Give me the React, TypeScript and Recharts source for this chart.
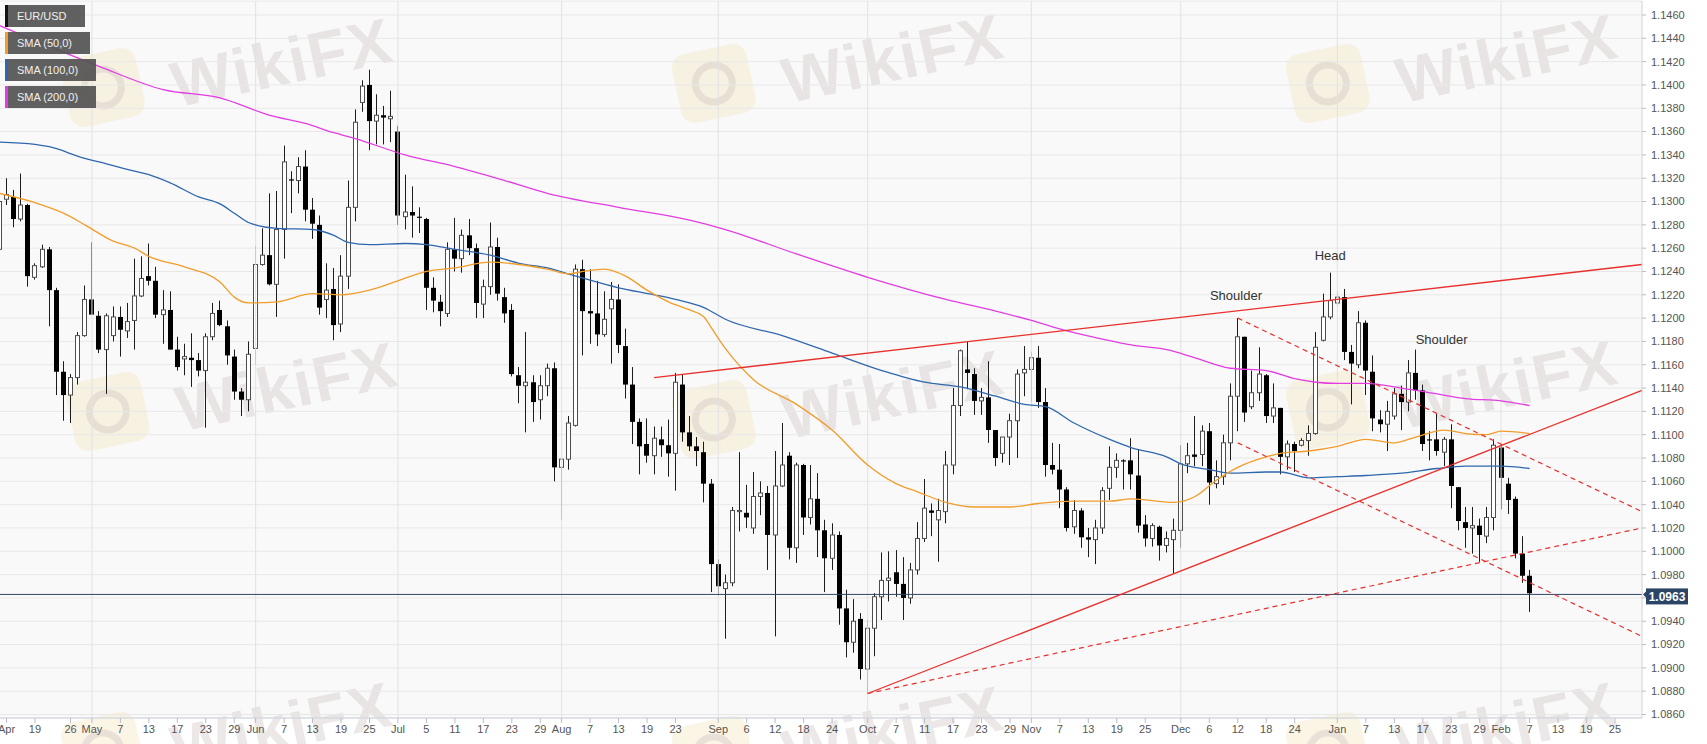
import React from "react";
import {
  Bar,
  CartesianGrid,
  ComposedChart,
  Line,
  ReferenceDot,
  ReferenceLine,
  XAxis,
  YAxis,
} from "recharts";

// EUR/USD daily candles, one per weekday, index 0 = Fri 12 Apr 2019 ... index 215 = Fri 7 Feb 2020
// [open, high, low, close]
const candles: number[][] = [
  [1.1259, 1.1324, 1.1255, 1.13], [1.1302, 1.132, 1.1297, 1.1306], [1.1304, 1.131, 1.1278, 1.1285], [1.1285, 1.1324, 1.1283, 1.1297],
  [1.1297, 1.1298, 1.1227, 1.1236], [1.1235, 1.1247, 1.1233, 1.1245], [1.1244, 1.1263, 1.1243, 1.1259], [1.1259, 1.1261, 1.1193, 1.1224],
  [1.1224, 1.1226, 1.1134, 1.1154], [1.1154, 1.1163, 1.1112, 1.1134], [1.1134, 1.1152, 1.111, 1.1149], [1.1149, 1.1188, 1.1143, 1.1185],
  [1.1185, 1.1228, 1.1184, 1.1216], [1.1216, 1.1265, 1.1203, 1.1203], [1.1202, 1.1206, 1.117, 1.1173], [1.1173, 1.1204, 1.1135, 1.1202],
  [1.1185, 1.121, 1.118, 1.1201], [1.1201, 1.121, 1.1167, 1.119], [1.1189, 1.1213, 1.1183, 1.1197], [1.1198, 1.1251, 1.1173, 1.1219],
  [1.1219, 1.1253, 1.1218, 1.1234], [1.1236, 1.1264, 1.1228, 1.1232], [1.1232, 1.1244, 1.12, 1.1203], [1.1203, 1.1224, 1.1178, 1.1207],
  [1.1207, 1.1223, 1.1173, 1.1173], [1.1173, 1.1184, 1.1155, 1.1158], [1.1165, 1.1178, 1.1151, 1.1167], [1.1166, 1.1187, 1.1141, 1.1164],
  [1.1164, 1.117, 1.115, 1.1155], [1.1155, 1.1187, 1.1106, 1.1184], [1.1184, 1.1213, 1.1181, 1.1204], [1.1207, 1.1215, 1.1193, 1.1194],
  [1.1193, 1.1198, 1.116, 1.1168], [1.1167, 1.1173, 1.113, 1.1137], [1.1137, 1.114, 1.1116, 1.113], [1.113, 1.118, 1.112, 1.1169],
  [1.1174, 1.1262, 1.116, 1.1246], [1.1246, 1.1277, 1.1245, 1.1254], [1.1254, 1.1307, 1.1228, 1.1229], [1.1229, 1.1309, 1.1201, 1.1276],
  [1.1276, 1.1348, 1.1251, 1.1334], [1.1319, 1.1326, 1.129, 1.1318], [1.1318, 1.1338, 1.1307, 1.133], [1.133, 1.1344, 1.1283, 1.1293],
  [1.1293, 1.1303, 1.1268, 1.1281], [1.128, 1.1288, 1.1203, 1.1209], [1.1216, 1.1247, 1.12, 1.1224], [1.1225, 1.1243, 1.1181, 1.1194],
  [1.1195, 1.1254, 1.1188, 1.1236], [1.1236, 1.1318, 1.1225, 1.1295], [1.1295, 1.1379, 1.1283, 1.1368], [1.1385, 1.1404, 1.1377, 1.1399],
  [1.14, 1.1413, 1.1344, 1.1369], [1.1369, 1.1392, 1.1349, 1.1374], [1.1374, 1.1382, 1.1349, 1.1372], [1.1371, 1.1395, 1.1351, 1.1373],
  [1.136, 1.1365, 1.128, 1.1288], [1.1287, 1.1323, 1.1276, 1.1291], [1.1291, 1.1313, 1.1269, 1.1288], [1.1287, 1.1295, 1.1273, 1.1286],
  [1.1285, 1.1286, 1.1207, 1.1226], [1.1226, 1.1235, 1.1205, 1.1215], [1.1214, 1.122, 1.1193, 1.1206], [1.1204, 1.1265, 1.1201, 1.1259],
  [1.1259, 1.1286, 1.124, 1.1251], [1.1251, 1.1276, 1.1239, 1.1271], [1.1271, 1.1285, 1.1254, 1.126], [1.126, 1.1264, 1.12, 1.1213],
  [1.1212, 1.1233, 1.12, 1.1227], [1.1227, 1.1282, 1.122, 1.1261], [1.1261, 1.1269, 1.1215, 1.1221], [1.1218, 1.1226, 1.1196, 1.1204],
  [1.1207, 1.1212, 1.115, 1.1152], [1.1151, 1.1158, 1.1127, 1.1142], [1.1142, 1.1188, 1.1102, 1.1145], [1.1145, 1.1151, 1.1111, 1.1128],
  [1.113, 1.1151, 1.1113, 1.1142], [1.1142, 1.1161, 1.1133, 1.1157], [1.1157, 1.1162, 1.106, 1.1072], [1.1072, 1.1079, 1.1027, 1.1079],
  [1.1079, 1.1116, 1.107, 1.111], [1.1108, 1.1246, 1.1107, 1.1242], [1.1242, 1.125, 1.1168, 1.1206], [1.1206, 1.1242, 1.1178, 1.1204],
  [1.1204, 1.1232, 1.1176, 1.1186], [1.1186, 1.1223, 1.1184, 1.1199], [1.1208, 1.1231, 1.1161, 1.1216], [1.1216, 1.1229, 1.117, 1.1177],
  [1.1176, 1.1191, 1.1131, 1.1143], [1.1143, 1.1158, 1.1092, 1.1111], [1.1111, 1.1114, 1.1066, 1.109], [1.1092, 1.1114, 1.1076, 1.1082],
  [1.1082, 1.1107, 1.1066, 1.1097], [1.1096, 1.1107, 1.1081, 1.1091], [1.1091, 1.1113, 1.1064, 1.1084], [1.1084, 1.1153, 1.1052, 1.1145],
  [1.1143, 1.1152, 1.1094, 1.1102], [1.1102, 1.1116, 1.1086, 1.109], [1.109, 1.1098, 1.1073, 1.1086], [1.1085, 1.1094, 1.1042, 1.1058],
  [1.1058, 1.1062, 1.0965, 1.0989], [1.0989, 1.0993, 1.0962, 1.097], [1.0968, 1.098, 1.0925, 1.0973], [1.0973, 1.1038, 1.097, 1.1035],
  [1.1034, 1.1085, 1.1017, 1.1035], [1.1033, 1.1057, 1.102, 1.1029], [1.102, 1.1068, 1.1015, 1.1047], [1.1047, 1.106, 1.1031, 1.105],
  [1.105, 1.1056, 1.0984, 1.1014], [1.1014, 1.1086, 1.0927, 1.1056], [1.1056, 1.111, 1.1055, 1.1074], [1.1082, 1.1085, 1.0993, 1.1003],
  [1.1003, 1.1076, 1.099, 1.1074], [1.1074, 1.1075, 1.1014, 1.1029], [1.1029, 1.1074, 1.1023, 1.1045], [1.1045, 1.1067, 1.0995, 1.1018],
  [1.1018, 1.1027, 1.0965, 1.0994], [1.0994, 1.1024, 1.0984, 1.1014], [1.1014, 1.1017, 1.0937, 1.0951], [1.0951, 1.0967, 1.0909, 1.0922],
  [1.0922, 1.0959, 1.0913, 1.094], [1.0942, 1.0947, 1.089, 1.0899], [1.0899, 1.0941, 1.0878, 1.0934], [1.0934, 1.0964, 1.091, 1.0961],
  [1.0961, 1.0999, 1.0941, 1.0975], [1.0975, 1.1, 1.0957, 1.0977], [1.0982, 1.1001, 1.0961, 1.0972], [1.0972, 1.0995, 1.0941, 1.096],
  [1.096, 1.099, 1.0955, 1.0984], [1.0984, 1.1025, 1.098, 1.1011], [1.1011, 1.1062, 1.1008, 1.1037], [1.1035, 1.1041, 1.1013, 1.1033],
  [1.1027, 1.1045, 1.0991, 1.1035], [1.1034, 1.1086, 1.1024, 1.1074], [1.1074, 1.114, 1.1066, 1.1125], [1.1125, 1.1173, 1.1116, 1.1172],
  [1.1156, 1.118, 1.1139, 1.1153], [1.1152, 1.1157, 1.1117, 1.1129], [1.1129, 1.114, 1.1117, 1.1132], [1.1132, 1.1163, 1.1093, 1.1104],
  [1.1104, 1.1104, 1.1073, 1.108], [1.1084, 1.1098, 1.1076, 1.1098], [1.1098, 1.1118, 1.1074, 1.1112], [1.1112, 1.1156, 1.108, 1.1152],
  [1.1153, 1.1176, 1.1133, 1.1156], [1.1156, 1.1171, 1.1128, 1.1166], [1.1166, 1.1176, 1.1123, 1.1128], [1.1128, 1.114, 1.1064, 1.1074],
  [1.1074, 1.1093, 1.1066, 1.107], [1.107, 1.1092, 1.1037, 1.1053], [1.1053, 1.1055, 1.1017, 1.102], [1.1021, 1.1044, 1.1015, 1.1035],
  [1.1035, 1.1037, 1.1003, 1.1012], [1.1012, 1.102, 1.0995, 1.101], [1.101, 1.1027, 1.0989, 1.102], [1.102, 1.1055, 1.1015, 1.1052],
  [1.1054, 1.109, 1.1044, 1.1072], [1.1072, 1.1084, 1.1063, 1.1078], [1.1078, 1.1079, 1.1053, 1.1077], [1.1078, 1.1097, 1.1053, 1.1066],
  [1.1065, 1.1087, 1.1016, 1.1022], [1.1023, 1.1031, 1.1004, 1.1011], [1.1011, 1.1024, 1.1004, 1.1022], [1.1021, 1.1022, 1.0992, 1.1005],
  [1.1005, 1.1017, 1.0999, 1.1011], [1.101, 1.1028, 1.0981, 1.1018], [1.1018, 1.1091, 1.1003, 1.1075], [1.1075, 1.1093, 1.1067, 1.1082],
  [1.1083, 1.1116, 1.1073, 1.1081], [1.1083, 1.1108, 1.1073, 1.1103], [1.1103, 1.111, 1.104, 1.1059], [1.1058, 1.1078, 1.1054, 1.1064],
  [1.1064, 1.11, 1.1057, 1.1093], [1.1093, 1.1144, 1.1078, 1.1133], [1.1133, 1.12, 1.1103, 1.1184], [1.1184, 1.1184, 1.1111, 1.1119],
  [1.1124, 1.1155, 1.1122, 1.1136], [1.1136, 1.1175, 1.1129, 1.1152], [1.1151, 1.1152, 1.111, 1.1116], [1.1116, 1.1144, 1.111, 1.1123],
  [1.1123, 1.1123, 1.1066, 1.1081], [1.1081, 1.1095, 1.107, 1.1092], [1.1092, 1.1094, 1.1068, 1.1086], [1.1091, 1.1097, 1.109, 1.1095],
  [1.1095, 1.1108, 1.1082, 1.1101], [1.1101, 1.1188, 1.11, 1.1175], [1.1181, 1.1221, 1.118, 1.1201], [1.1201, 1.1239, 1.1199, 1.1215],
  [1.1213, 1.1223, 1.1211, 1.1218], [1.1218, 1.1225, 1.1164, 1.1171], [1.1171, 1.1177, 1.1126, 1.1161], [1.116, 1.1206, 1.1157, 1.1196],
  [1.1196, 1.1198, 1.1134, 1.1155], [1.1154, 1.1168, 1.1103, 1.1114], [1.1113, 1.1121, 1.1102, 1.1109], [1.1109, 1.1129, 1.1086, 1.112],
  [1.1116, 1.114, 1.1113, 1.1135], [1.1135, 1.1142, 1.1104, 1.1128], [1.1128, 1.1164, 1.112, 1.1153], [1.1153, 1.1173, 1.113, 1.1138],
  [1.1138, 1.1143, 1.1086, 1.1092], [1.1096, 1.1103, 1.1078, 1.1095], [1.1096, 1.1118, 1.1082, 1.1086], [1.1085, 1.1098, 1.1073, 1.1096],
  [1.1096, 1.1109, 1.1037, 1.1056], [1.1055, 1.1055, 1.1018, 1.1026], [1.1025, 1.1038, 1.1003, 1.102], [1.102, 1.1038, 1.0998, 1.1022],
  [1.1022, 1.1028, 1.0991, 1.1014], [1.1013, 1.1038, 1.1007, 1.1029], [1.1029, 1.1096, 1.1018, 1.1091], [1.1089, 1.1092, 1.1036, 1.1063],
  [1.1058, 1.1063, 1.1032, 1.1044], [1.1045, 1.1047, 1.0994, 1.0998], [1.0998, 1.1013, 1.0973, 1.0979], [1.0979, 1.0984, 1.0948, 1.0964],
];

// moving averages at some days: [day index, value]
const sma50Pts = [
  [0, 1.1307], [5, 1.1299], [9, 1.129], [12, 1.128], [16, 1.1266], [19, 1.126], [21, 1.1253], [26, 1.1244], [31, 1.1231],
  [33, 1.1218], [35, 1.1213], [39, 1.1214], [44, 1.1221], [48, 1.122], [52, 1.1224], [56, 1.1232], [60, 1.124], [64, 1.1243],
  [69, 1.1248], [73, 1.1246], [77, 1.1242], [80, 1.1238], [82, 1.124], [85, 1.1242], [88, 1.1236], [91, 1.1224], [94, 1.1214],
  [97, 1.1207], [99, 1.1201], [100, 1.1192], [102, 1.1174], [106, 1.1147], [112, 1.1126], [117, 1.1104], [122, 1.1074],
  [126, 1.1058], [129, 1.1051], [133, 1.1042], [137, 1.1038], [142, 1.1038], [146, 1.1041], [151, 1.1043], [156, 1.1043],
  [159, 1.1045], [165, 1.1042], [168, 1.1047], [171, 1.1061], [174, 1.1072], [178, 1.1081], [180, 1.1084], [184, 1.1086],
  [188, 1.109], [192, 1.1096], [196, 1.1093], [199, 1.1098], [203, 1.1104], [206, 1.1101], [209, 1.11], [211, 1.1103], [215, 1.1101],
];
const sma100Pts = [
  [0, 1.1351], [5, 1.1349], [7, 1.1347], [12, 1.1337], [14, 1.1334], [19, 1.1326], [21, 1.1323], [24, 1.1316], [28, 1.1304],
  [31, 1.1298], [33, 1.129], [35, 1.1282], [39, 1.1277], [44, 1.1276], [47, 1.1271], [49, 1.1265], [52, 1.1263], [57, 1.1264],
  [60, 1.1263], [64, 1.1259], [69, 1.1254], [73, 1.1247], [77, 1.1243], [81, 1.1236], [87, 1.1226], [92, 1.122], [95, 1.1216],
  [99, 1.1209], [102, 1.1199], [110, 1.1185], [117, 1.117], [124, 1.1155], [130, 1.1145], [135, 1.1141], [140, 1.1133],
  [144, 1.1126], [147, 1.1124], [151, 1.111], [156, 1.1096], [159, 1.1089], [164, 1.1081], [166, 1.1075], [170, 1.107],
  [173, 1.1067], [178, 1.1068], [180, 1.1068], [184, 1.1063], [188, 1.1064], [192, 1.1065], [197, 1.1067], [202, 1.1071],
  [206, 1.1073], [211, 1.1073], [215, 1.1071],
];
const sma200Pts = [
  [0, 1.1451], [14, 1.1416], [23, 1.1396], [31, 1.1389], [38, 1.1374], [43, 1.1367], [47, 1.1359], [50, 1.1354], [57, 1.134],
  [64, 1.133], [71, 1.1318], [77, 1.1307], [87, 1.1295], [97, 1.1284], [102, 1.1276], [112, 1.1255], [122, 1.1235],
  [133, 1.1216], [140, 1.1206], [145, 1.1198], [150, 1.1189], [155, 1.1182], [159, 1.1177], [164, 1.1173], [168, 1.1166],
  [173, 1.1157], [178, 1.1155], [182, 1.1148], [185, 1.1145], [188, 1.1144], [192, 1.1144], [197, 1.114], [202, 1.1135],
  [206, 1.1131], [211, 1.1129], [215, 1.1125],
];

// x tick labels (day index -> text)
const tickIdx = [1, 5, 10, 13, 17, 21, 25, 29, 33, 36, 40, 44, 48, 52, 56, 60, 64, 68, 72, 76, 79, 83, 87, 91, 95, 101, 105, 109, 113, 117,
  122, 126, 130, 134, 138, 142, 145, 149, 153, 157, 161, 166, 170, 174, 178, 182, 188, 192, 196, 200, 204, 208, 211, 215, 219, 223, 227];
const tickText = ["Apr", "19", "26", "May", "7", "13", "17", "23", "29", "Jun", "7", "13", "19", "25", "Jul", "5", "11", "17", "23", "29",
  "Aug", "7", "13", "19", "23", "Sep", "6", "12", "18", "24", "Oct", "7", "11", "17", "23", "29", "Nov", "7", "13", "19", "25",
  "Dec", "6", "12", "18", "24", "Jan", "7", "13", "17", "23", "29", "Feb", "7", "13", "19", "25"];
const monthIdx = [13, 36, 56, 79, 101, 122, 145, 166, 188, 211];

const yTicks = [1.086, 1.088, 1.09, 1.092, 1.094, 1.096, 1.098, 1.1, 1.102, 1.104, 1.106, 1.108, 1.11, 1.112, 1.114, 1.116,
  1.118, 1.12, 1.122, 1.124, 1.126, 1.128, 1.13, 1.132, 1.134, 1.136, 1.138, 1.14, 1.142, 1.144, 1.146];

const lastPrice = 1.0963;

// trend lines [from day, from price, to day, to price]
const solidLines = [[92, 1.1149, 230.8, 1.1246], [122, 1.0878, 230.8, 1.1138]];
const dashedLines = [[122, 1.0878, 230.8, 1.102], [174, 1.12, 230.8, 1.1034], [174, 1.1093, 230.8, 1.0927]];

const notes = [
  { text: "Shoulder", k: 173.75, p: 1.1219 },
  { text: "Head", k: 187, p: 1.1254 },
  { text: "Shoulder", k: 202.65, p: 1.1182 },
];

const legendItems = [
  { name: "EUR/USD", color: "#111111" },
  { name: "SMA (50,0)", color: "#f29d2a" },
  { name: "SMA (100,0)", color: "#2f67ad" },
  { name: "SMA (200,0)", color: "#e23de2" },
];

const rows: any[] = candles.map(([o, h, l, c], k) => ({ k, o, h, l, c }));
sma50Pts.forEach(([k, v]) => (rows[k].sma50 = v));
sma100Pts.forEach(([k, v]) => (rows[k].sma100 = v));
sma200Pts.forEach(([k, v]) => (rows[k].sma200 = v));

const labelOf = new Map(tickIdx.map((k, i) => [k, tickText[i]]));

const RED = "#e8302c";

const Candle = (props: any) => {
  const { x, y, width, height, payload } = props;
  if (!payload || x == null || y == null) return null;
  const { o, h, l, c } = payload;
  const top = Math.min(y, y + height);
  const bot = Math.max(y, y + height);
  const span = h - l;
  const py = (v: number) => (span === 0 ? top : top + ((h - v) / span) * (bot - top));
  const left = Math.round(x + width / 2 - 2.5);
  const mid = left + 2.5;
  const bTop = py(Math.max(o, c));
  const bh = Math.max(py(Math.min(o, c)) - bTop, 1);
  return (
    <g>
      <line x1={mid} x2={mid} y1={top} y2={bot} stroke="#1c1c1c" strokeWidth={1} />
      {c >= o ? (
        <rect x={left + 0.5} y={bTop} width={4} height={bh} fill="#ffffff" stroke="#4d4d4d" strokeWidth={1} />
      ) : (
        <rect x={left} y={bTop} width={5} height={bh} fill="#000000" />
      )}
    </g>
  );
};

const PriceTag = ({ cx, cy }: any) => (
  <g>
    <path d={`M${cx + 1},${cy} L${cx + 4},${cy - 3} L${cx + 4},${cy + 3} Z`} fill="#2c4566" />
    <rect x={cx + 4} y={cy - 6} width={42} height={16} fill="#2c4566" />
    <text x={cx + 25} y={cy + 2.5} fill="#ffffff" fontSize={12} fontWeight="bold" textAnchor="middle" dominantBaseline="central">
      {lastPrice.toFixed(4)}
    </text>
  </g>
);

// the price tag sits over this axis label in the original
const yLabel = (v: number) => (Math.abs(v - lastPrice) < 0.0008 ? "" : v.toFixed(4));

const Watermark = ({ x, y }: { x: number; y: number }) => (
  <div style={{ position: "absolute", left: x - 40, top: y - 36, transform: "rotate(-12deg)", transformOrigin: "40px 36px" }}>
    <div
      style={{
        position: "absolute",
        left: 0,
        top: 0,
        width: 76,
        height: 70,
        borderRadius: 14,
        background: "rgba(244, 226, 184, 0.35)",
      }}
    >
      <div
        style={{
          position: "absolute",
          left: 16,
          top: 13,
          width: 44,
          height: 44,
          borderRadius: 22,
          border: "7px solid rgba(200, 190, 185, 0.35)",
          boxSizing: "border-box",
        }}
      />
    </div>
    <div
      style={{
        position: "absolute",
        left: 106,
        top: 16,
        fontSize: 64,
        lineHeight: "64px",
        fontWeight: "bold",
        fontFamily: "'Liberation Sans', Arial, sans-serif",
        color: "rgba(195, 185, 185, 0.32)",
        whiteSpace: "nowrap",
        letterSpacing: 2,
      }}
    >
      WikiFX
    </div>
  </div>
);

const marks = [
  [105, 88], [716, 84], [1330, 84],
  [110, 412], [716, 420], [1330, 410],
  [105, 752], [716, 756], [1330, 752],
];

const App = () => {
  return (
    <div
      style={{
        position: "absolute",
        left: 0,
        top: 0,
        width: 1707,
        height: 744,
        overflow: "hidden",
        background: "#ffffff",
        fontFamily: "'Liberation Sans', Arial, sans-serif",
      }}
    >
      <div style={{ position: "absolute", left: 0, top: 1, width: 1642, height: 717, background: "#f9f9f9" }} />
      <div style={{ position: "absolute", left: 0, top: 0, width: 1707, height: 744, pointerEvents: "none" }}>
        {marks.map(([x, y], i) => (
          <Watermark key={i} x={x} y={y} />
        ))}
      </div>
      <div style={{ position: "absolute", left: 0, top: 0 }}>
        <ComposedChart width={1707} height={744} data={rows} margin={{ top: 1, right: 0, bottom: 0, left: 0 }}>
          <CartesianGrid vertical={false} stroke="#e8e8e8" />
          {monthIdx.map((m) => (
            <ReferenceLine key={m} x={m} stroke="#e2e2e2" ifOverflow="visible" />
          ))}
          <XAxis
            type="number"
            dataKey="k"
            domain={[0.084, 230.8]}
            allowDataOverflow
            ticks={tickIdx}
            interval={0}
            tickFormatter={(v: number) => labelOf.get(v) ?? ""}
            height={26}
            tickSize={5}
            tickMargin={2}
            axisLine={{ stroke: "#cdd2dc" }}
            tickLine={{ stroke: "#b9bdc6" }}
            tick={{ fontSize: 11, fill: "#555555" }}
          />
          <YAxis
            orientation="right"
            type="number"
            domain={[1.0857, 1.1472]}
            allowDataOverflow
            ticks={yTicks}
            interval={0}
            tickFormatter={yLabel}
            width={65}
            tickSize={4}
            tickMargin={5}
            axisLine={{ stroke: "#cdd2dc" }}
            tickLine={{ stroke: "#b9bdc6" }}
            tick={{ fontSize: 11, fill: "#555555" }}
          />
          <Bar dataKey={(r: any) => [r.l, r.h]} shape={Candle} barSize={5} isAnimationActive={false} />
          <Line type="monotone" dataKey="sma200" stroke="#e23de2" strokeWidth={1.3} dot={false} connectNulls isAnimationActive={false} />
          <Line type="monotone" dataKey="sma100" stroke="#2f67ad" strokeWidth={1.3} dot={false} connectNulls isAnimationActive={false} />
          <Line type="monotone" dataKey="sma50" stroke="#f29d2a" strokeWidth={1.3} dot={false} connectNulls isAnimationActive={false} />
          <ReferenceLine y={lastPrice} stroke="#2c4566" strokeWidth={1} ifOverflow="visible" />
          {solidLines.map(([k1, p1, k2, p2], i) => (
            <ReferenceLine
              key={"s" + i}
              segment={[{ x: k1, y: p1 }, { x: k2, y: p2 }]}
              stroke={RED}
              strokeWidth={1.3}
              ifOverflow="visible"
            />
          ))}
          {dashedLines.map(([k1, p1, k2, p2], i) => (
            <ReferenceLine
              key={"d" + i}
              segment={[{ x: k1, y: p1 }, { x: k2, y: p2 }]}
              stroke={RED}
              strokeWidth={1.2}
              strokeDasharray="5 4"
              ifOverflow="visible"
            />
          ))}
          {notes.map((n, i) => (
            <ReferenceDot
              key={"n" + i}
              x={n.k}
              y={n.p}
              r={0}
              ifOverflow="visible"
              shape={(p: any) => (
                <text x={p.cx} y={p.cy} textAnchor="middle" dominantBaseline="central" fontSize={13} fill="#333333">
                  {n.text}
                </text>
              )}
            />
          ))}
          <ReferenceDot x={230.8} y={lastPrice} r={0} ifOverflow="visible" shape={PriceTag} />
        </ComposedChart>
      </div>
      <div style={{ position: "absolute", left: 5, top: 5 }}>
        {legendItems.map((it) => (
          <div
            key={it.name}
            style={{
              display: "table",
              height: 22,
              lineHeight: "22px",
              marginBottom: 5,
              paddingLeft: 9,
              paddingRight: 18,
              borderLeft: `3px solid ${it.color}`,
              background: "rgba(84, 84, 84, 0.93)",
              color: "#f0f0f0",
              fontSize: 11,
              whiteSpace: "nowrap",
            }}
          >
            {it.name}
          </div>
        ))}
      </div>
    </div>
  );
};

export default App;
